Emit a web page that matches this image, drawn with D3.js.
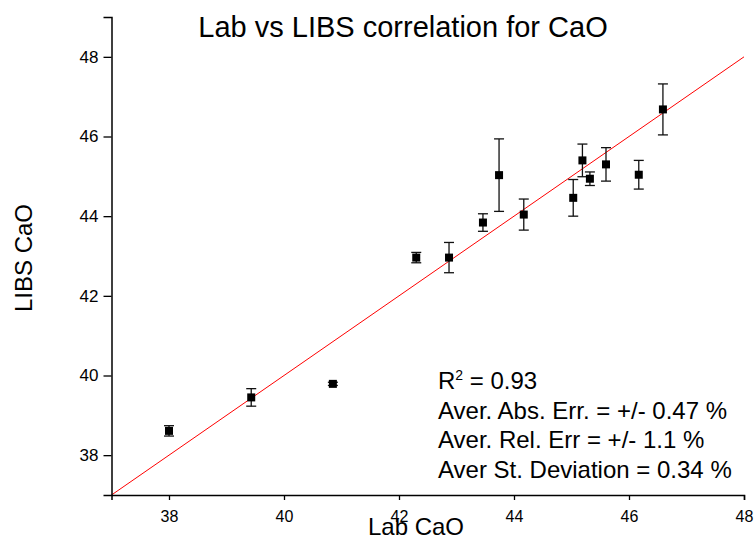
<!DOCTYPE html>
<html>
<head>
<meta charset="utf-8">
<script src="https://cdn.jsdelivr.net/npm/d3@7"></script>
<style>
  body { margin: 0; background: #fff; }
  svg { font-family: "Liberation Sans", Arial, sans-serif; }
</style>
</head>
<body>
<svg width="755" height="539"></svg>
<script>
// values
const labCaO  = [38.0, 39.43, 40.85, 42.3, 42.87, 43.46, 43.74, 44.17, 45.03, 45.19, 45.32, 45.6, 46.17, 46.59];
const libsCaO = [38.61, 39.45, 39.79, 42.96, 42.96, 43.84, 45.03, 44.04, 44.46, 45.4, 44.94, 45.3, 45.04, 46.68];
const errLibs = [0.13, 0.22, 0.04, 0.13, 0.38, 0.22, 0.91, 0.39, 0.46, 0.41, 0.17, 0.42, 0.36, 0.64];

const xMajor = [38, 40, 42, 44, 46, 48];
const xMinor = [37, 39, 41, 43, 45, 47];
const yMajor = [38, 40, 42, 44, 46, 48];
const yMinor = [37, 39, 41, 43, 45, 47, 49];

const statLines = ["= 0.93", "Aver. Abs. Err. = +/- 0.47 %", "Aver. Rel. Err = +/- 1.1 %", "Aver St. Deviation = 0.34 %"];

const svg = d3.select("svg");

let scaleX = d3.scaleLinear().domain([37, 48]).range([111.5, 744]);
let scaleY = d3.scaleLinear().domain([37, 49]).range([495, 17]);

// y = x reference line
svg.append("line")
  .attr("x1", scaleX(37)).attr("y1", scaleY(37))
  .attr("x2", scaleX(48)).attr("y2", scaleY(48))
  .attr("stroke", "#ff0000").attr("stroke-width", 1);

// axes
let yAxis = svg.append("g").attr("transform", "translate(" + scaleX(37) + ",0)");
yAxis.call(d3.axisLeft(scaleY).tickValues(yMinor).tickSize(4).tickFormat(""));
yAxis.call(d3.axisLeft(scaleY).tickValues(yMajor).tickSize(8).tickPadding(5).tickFormat(d3.format("d")));
yAxis.selectAll("text").attr("font-size", 17).attr("font-family", "Liberation Sans, Arial, sans-serif");

let xAxis = svg.append("g").attr("transform", "translate(0," + scaleY(37) + ")");
xAxis.call(d3.axisBottom(scaleX).tickValues(xMinor).tickSize(5).tickFormat(""));
xAxis.call(d3.axisBottom(scaleX).tickValues(xMajor).tickSize(5).tickPadding(11).tickFormat(d3.format("d")));
xAxis.selectAll("text").attr("font-size", 16).attr("font-family", "Liberation Sans, Arial, sans-serif");

svg.selectAll(".domain").attr("stroke-width", 1.5);
svg.selectAll(".tick line").attr("stroke-width", 1.3);

// error bars
let bars = svg.append("g").selectAll("g")
  .data(labCaO)
  .enter()
  .append("g");

bars.append("line")
  .attr("x1", (d, i) => scaleX(d)).attr("x2", (d, i) => scaleX(d))
  .attr("y1", (d, i) => scaleY(libsCaO[i] + errLibs[i]))
  .attr("y2", (d, i) => scaleY(libsCaO[i] - errLibs[i]))
  .attr("stroke", "#111").attr("stroke-width", 1.3);

[1, -1].forEach(function(s) {
  bars.append("line")
    .attr("x1", d => scaleX(d) - 5).attr("x2", d => scaleX(d) + 5)
    .attr("y1", (d, i) => scaleY(libsCaO[i] + s * errLibs[i]))
    .attr("y2", (d, i) => scaleY(libsCaO[i] + s * errLibs[i]))
    .attr("stroke", "#111").attr("stroke-width", 1.3);
});

// square markers
bars.append("rect")
  .attr("x", d => scaleX(d) - 4)
  .attr("y", (d, i) => scaleY(libsCaO[i]) - 4)
  .attr("width", 8).attr("height", 8)
  .attr("fill", "#000");

// titles
svg.append("text")
  .attr("x", 403).attr("y", 37)
  .attr("text-anchor", "middle")
  .attr("font-size", 29)
  .text("Lab vs LIBS correlation for CaO");

svg.append("text")
  .attr("x", 416).attr("y", 535)
  .attr("text-anchor", "middle")
  .attr("font-size", 24)
  .text("Lab CaO");

svg.append("text")
  .attr("transform", "translate(32,258) rotate(-90)")
  .attr("text-anchor", "middle")
  .attr("font-size", 24)
  .text("LIBS CaO");

// fit statistics
let stats = svg.append("g").attr("font-size", 24);
stats.selectAll("text")
  .data(statLines)
  .enter()
  .append("text")
  .attr("x", 438)
  .attr("y", (d, i) => 389 + i * 29.7)
  .each(function(d, i) {
    let t = d3.select(this);
    if (i === 0) {
      t.append("tspan").text("R");
      t.append("tspan").attr("font-size", 14).attr("dy", -9).text("2");
      t.append("tspan").attr("dy", 9).text(" " + d);
    } else {
      t.text(d);
    }
  });
</script>
</body>
</html>
